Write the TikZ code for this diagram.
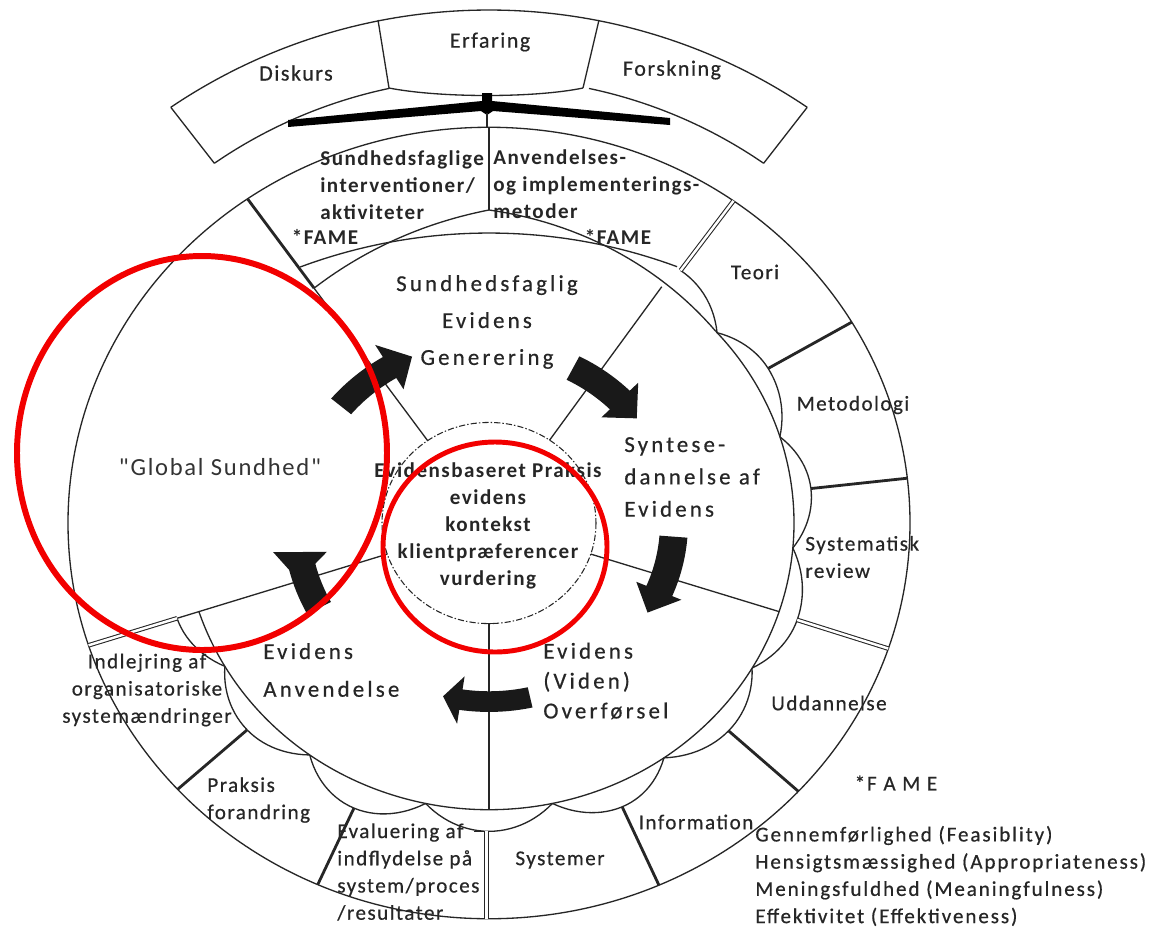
\documentclass[tikz,border=0pt]{standalone}
\usepackage{fontspec}
\setmainfont{Carlito}
\newfontfamily\fA[LetterSpace=7,FakeBold=0.5]{Carlito}
\newfontfamily\fB[LetterSpace=14,FakeBold=0.5]{Carlito}
\newfontfamily\fC[LetterSpace=9,FakeBold=0.5]{Carlito}
\newfontfamily\fD[LetterSpace=7]{Carlito}
\definecolor{ink}{HTML}{262626}
\definecolor{redc}{HTML}{F20000}
\newcommand\hp[3]{\draw[ln] plot[domain=#1:#2,samples=14,variable=\t] (\t:{305+(#3-305)*(1-((\t-(#1))/((#2)-(#1)))*((\t-(#1))/((#2)-(#1))))});}
\newcommand\carrow[8]{\fill[arr] (#4:#1) arc[start angle=#4,end angle=#5,radius=#1] -- (#5:#7) -- (#6:#3) -- (#5:#8) -- (#5:#2) arc[start angle=#5,end angle=#4,radius=#2] -- cycle;}
\begin{document}
\begin{tikzpicture}[x=0.02cm,y=-0.02cm,
  ln/.style={draw=ink,line width=0.75pt},
  thk/.style={draw=ink,line width=1.6pt},
  dbl/.style={draw=ink,double=white,double distance=1.4pt,line width=0.6pt},
  arr/.style={fill=black!90},
  every node/.style={inner sep=0pt,text=ink},
  band/.style={font=\fA\fontsize{12.5}{15}\selectfont},
  boxb/.style={font=\fD\bfseries\fontsize{12}{15.5}\selectfont,align=left},
  ring/.style={font=\fA\fontsize{12}{15.5}\selectfont},
  sect/.style={font=\fB\fontsize{13}{21}\selectfont},
  ctr/.style={font=\fD\bfseries\fontsize{12}{15.3}\selectfont,align=center},
  leg/.style={font=\fC\fontsize{12}{15.5}\selectfont,align=left}]
\fill[white] (0,0) rectangle (1160,931);
\useasboundingbox (0,0) rectangle (1160,931);

% ---------- top band ----------
\draw[ln] ([shift={(489,579)}]-124:569) arc[start angle=-124,end angle=-56,radius=569];
\draw[ln] ([shift={(489,563)}]-124.5:485) arc[start angle=-124.5,end angle=-101.9,radius=485];
\draw[ln] ([shift={(489,563)}]-78.1:485) arc[start angle=-78.1,end angle=-55.5,radius=485];
\draw[ln] (389,88) .. controls (440,98) and (535,98) .. (583,88);
\draw[ln] (170.8,107.3) -- (214.3,163.2);
\draw[ln] (807.2,107.3) -- (763.7,163.2);
\draw[ln] (378,20) -- (389,88);
\draw[ln] (599,20) -- (583,88);
% trident
\fill[black] (482,93) -- (492,93) -- (492,101) -- (670,118) -- (670,125) -- (493,111) -- (487,115) -- (481,111) -- (288,127) -- (288,120) -- (482,101) -- cycle;
\draw[ln] (487,113) -- (487,127);

% ---------- wheel ----------
\begin{scope}[shift={(489,523)},yscale=0.94]
  \draw[ln] (0,0) circle[radius=421];
  \draw[ln] (-42:305) arc[start angle=-42,end angle=162,radius=305];
  % top puff
  \draw[ln] plot[domain=-125:-90,samples=30,variable=\t] (\t:{305+28*(1-abs((\t+90)/35))*(1-0.5*abs((\t+90)/35))});
  \draw[ln] plot[domain=-90:-42,samples=30,variable=\t] (\t:{305+28*(1-abs((\t+90)/48))*(1-0.5*abs((\t+90)/48))});
  % scallops
  \hp{-54.5}{-41.6}{330}
  \hp{-30.5}{-41.6}{324}\hp{-30.5}{-17.5}{324}
  \hp{-6.5}{-17.5}{324}\hp{-6.5}{5}{324}
  \hp{18.5}{5}{325}\hp{18.5}{30.4}{325}
  \hp{42.7}{30.4}{326}\hp{42.7}{55}{326}
  \hp{66.2}{55}{330}\hp{66.2}{78}{330}
  \hp{90}{78}{328}\hp{90}{102}{328}
  \hp{114}{102}{332}\hp{114}{126}{332}
  \hp{137.7}{126}{327}\hp{137.7}{150}{327}
  \hp{162}{150}{328}
  % dividers
  \draw[ln] (-125:107) -- (-125:305);
  \draw[thk] (-125:305) -- (-125:421);
  \draw[ln] (-90:333) -- (-90:421);
  \draw[ln] (-55.5:107) -- (-55.5:305);
  \draw[dbl] (-54.5:330) -- (-54.5:421);
  \draw[thk] (-30.5:324) -- (-30.5:421);
  \draw[thk] (-6.5:324) -- (-6.5:421);
  \draw[ln] (18:107) -- (18:305);
  \draw[dbl] (18.5:325) -- (18.5:421);
  \draw[thk] (42.7:326) -- (42.7:421);
  \draw[thk] (66.2:330) -- (66.2:421);
  \draw[ln,line width=1.1pt] (90:107) -- (90:305);
  \draw[ln] (-6,107) -- (6,107);
  \draw[dbl] (-2.5,328) -- (-2.5,421);
  \draw[ln] (-4,328) -- (-15,328);
  \draw[thk] (114:332) -- (114:421);
  \draw[thk] (137.7:327) -- (137.7:421);
  \draw[ln] (162:107) -- (162:328);
  \draw[dbl] (162:328) -- (162:421);
  % centre circle
  \draw[ink,line width=0.6pt,dash pattern=on 3.5pt off 1.2pt on 0.8pt off 1.2pt] (0,0) circle[radius=107];
  % arrows
  \carrow{180}{206}{193}{-140}{-121}{-113.5}{166}{221}
  \carrow{171}{199}{185}{-63}{-45}{-37}{159}{211}
  \carrow{171}{199}{185}{4.5}{23}{31}{160}{209}
  \carrow{179}{201}{190}{77.5}{98.5}{104}{165}{216}
  \fill[arr] (152:179) arc[start angle=152,end angle=166,radius=179] -- (169.3:165) -- (171.8:218) -- (166:206) arc[start angle=166,end angle=152,radius=206] -- cycle;
\end{scope}
% box inner boundary at top
\draw[ln] ([shift={(489,775)}]-110.4:542) arc[start angle=-110.4,end angle=-69.7,radius=542];

% ---------- texts ----------
\node[band] (diskurs) at (296,73) {Diskurs};
\node[band] (erfaring) at (490,42) {Erfaring};
\node[band] (forskning) at (672,70) {Forskning};
\node[boxb,anchor=west] (interv) at (320,185) {Sundhedsfaglige\\interventioner/\\aktiviteter};
\node[boxb,anchor=west] (anvmet) at (493,184) {Anvendelses-\\og implementerings-\\metoder};
\node[boxb] (fame1) at (325,237) {*FAME};
\node[boxb] (fame2) at (618,237) {*FAME};
\node[ring] (teori) at (755,272) {Teori};
\node[ring] (metod) at (853,405) {Metodologi};
\node[ring,anchor=west,align=left] (sysrev) at (805,557) {Systematisk\\review};
\node[ring] (uddan) at (829,703) {Uddannelse};
\node[ring] (inform) at (696,822) {Information};
\node[ring] (system) at (560,860) {Systemer};
\node[ring,anchor=west,align=left] (evalu) at (337,872) {Evaluering af\\indflydelse på\\system/proces\\/resultater};
\node[ring,anchor=west,align=left] (praksis) at (207,800) {Praksis\\forandring};
\node[ring,align=center] (indlej) at (147,690) {Indlejring af\\organisatoriske\\systemændringer};
\node[font=\fD\fontsize{14}{17}\selectfont,text=black!80] (global) at (220,467) {"Global Sundhed"};
\node[sect,align=center] (gener) at (487,322) {Sundhedsfaglig\\Evidens\\Generering};
\node[sect,font=\fB\fontsize{13}{18.4}\selectfont,anchor=west,align=left] (synt) at (624,477) {Syntese-\\dannelse af\\Evidens};
\node[sect,font=\fB\fontsize{13}{17}\selectfont,anchor=west,align=left] (overf) at (543,681) {Evidens\\(Viden)\\Overførsel};
\node[sect,font=\fB\fontsize{13}{21.5}\selectfont,anchor=west,align=left] (anvend) at (263,670) {Evidens\\Anvendelse};
\node[ctr] (ebp) at (488,526) {Evidensbaseret Praksis\\evidens\\kontekst\\klientpræferencer\\vurdering};
\node[leg] (famehead) at (896,783) {*F A M E};
\node[leg,anchor=west] (legend) at (755,876) {Gennemførlighed (Feasiblity)\\Hensigtsmæssighed (Appropriateness)\\Meningsfuldhed (Meaningfulness)\\Effektivitet (Effektiveness)};

% ---------- red highlights ----------
\draw[redc,line width=3.4pt] (202,453) ellipse[x radius=185,y radius=197];
\draw[redc,line width=2.8pt] (495,547) ellipse[x radius=112,y radius=105];
\end{tikzpicture}
\end{document}
